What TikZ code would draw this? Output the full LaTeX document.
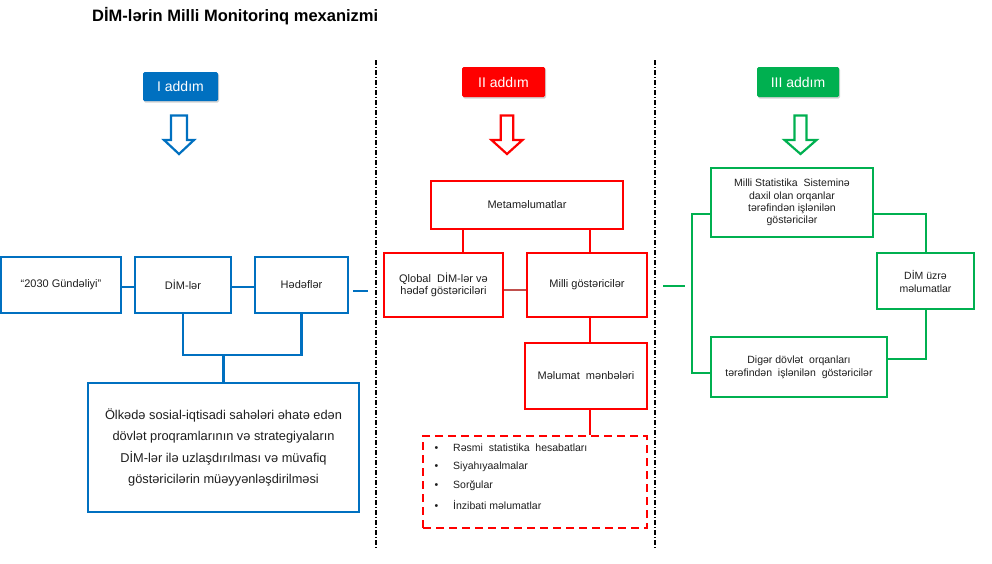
\documentclass[tikz,border=0pt]{standalone}
\usepackage{fontspec}
\setmainfont{Liberation Sans}
\usetikzlibrary{shadows,calc}
\definecolor{cblue}{RGB}{0,112,192}
\definecolor{cred}{RGB}{255,0,0}
\definecolor{cgreen}{RGB}{0,176,80}
\definecolor{cdred}{RGB}{192,80,77}
\definecolor{ctext}{RGB}{30,30,30}
\newcommand\holarrow[5]{%
  \draw[#5, line width=2.2pt, fill=white, line join=miter]
    (#1-#3,#2) -- (#1+#3,#2) -- (#1+#3,#2+24.5) -- (#1+#4,#2+24.5) -- (#1,#2+38.5)
    -- (#1-#4,#2+24.5) -- (#1-#3,#2+24.5) -- cycle;}
\begin{document}
\begin{tikzpicture}[x=1pt,y=-1pt,
  stepbox/.style={rounded corners=1.5pt, minimum height=30, inner sep=0, text=white,
    font=\fontsize{14}{16}\selectfont,
    drop shadow={opacity=0.35,shadow xshift=1pt,shadow yshift=-1.5pt}},
  box/.style={draw, line width=2.5pt, fill=white, inner sep=0, align=center, text=ctext,
    font=\fontsize{11}{13}\selectfont},
  bbox/.style={box, draw=cblue},
  rbox/.style={box, draw=cred},
  gbox/.style={box, draw=cgreen},
  conn/.style={line width=2.5pt},
  sep/.style={line width=1.2pt, black, dash pattern=on 5pt off 2pt on 1pt off 2pt},
  item/.style={anchor=west, inner sep=0, text=ctext, font=\fontsize{10.5}{12}\selectfont}]
\useasboundingbox[fill=white] (0,0) rectangle (992,563);

% title
\node[anchor=base west, inner sep=0, font=\bfseries\fontsize{16.5}{19}\selectfont] (title) at (92,21.5) {DİM-lərin Milli Monitorinq mexanizmi};

% separators
\coordinate (sa) at (376,60); \coordinate (sb) at (376,548);
\coordinate (sc) at (655,60); \coordinate (sd) at (655,548);
\draw[sep] (sa) -- (sb);
\draw[sep] (sc) -- (sd);

% step labels
\node[stepbox, fill=cblue, minimum width=75, minimum height=29] (st1) at (180.5,86.5) {I addım};
\node[stepbox, fill=cred, minimum width=83] (st2) at (503.5,82) {II addım};
\node[stepbox, fill=cgreen, minimum width=82] (st3) at (798,82) {III addım};

\holarrow{179}{115.5}{8}{15}{cblue}
\holarrow{507}{115.5}{6.3}{15.5}{cred}
\holarrow{800.5}{115.5}{6}{16}{cgreen}

% column 1
\node[bbox, minimum width=120, minimum height=56] (g2030) at (61,285) {“2030 Gündəliyi”};
\node[bbox, minimum width=96, minimum height=56] (dim) at (183,285) {DİM-lər};
\node[bbox, minimum width=93, minimum height=56] (hed) at (301.5,285) {Hədəflər};
\node[bbox, minimum width=271, minimum height=129, font=\fontsize{12.8}{21.2}\selectfont] (big) at (223.5,447.5)
  {Ölkədə sosial-iqtisadi sahələri əhatə edən\\dövlət proqramlarının və strategiyaların\\DİM-lər ilə uzlaşdırılması və müvafiq\\göstəricilərin müəyyənləşdirilməsi};
\coordinate (ry) at (0,287);
\draw[conn,cblue] (g2030.east |- ry) -- (dim.west |- ry);
\draw[conn,cblue] (dim.east |- ry) -- (hed.west |- ry);
\coordinate (yb) at (0,355);
\draw[conn,cblue] (dim.south) |- (hed.south |- yb) -- (hed.south);
\draw[conn,cblue] (big.north) -- (big.north |- yb);
\coordinate (s0) at (353,291); \coordinate (s1) at (368,291);
\draw[conn,cblue] (s0) -- (s1);

% column 2
\node[rbox, minimum width=192, minimum height=48] (meta) at (527,205) {Metaməlumatlar};
\node[rbox, minimum width=119, minimum height=64, font=\fontsize{11}{12.5}\selectfont] (qlob) at (443.5,285) {Qlobal \ DİM-lər və\\hədəf göstəriciləri};
\node[rbox, minimum width=120, minimum height=64] (milli) at (587,285) {Milli göstəricilər};
\node[rbox, minimum width=122, minimum height=66] (mel) at (586,376) {Məlumat \ mənbələri};
\node[draw=cred, line width=2.5pt, dash pattern=on 8pt off 5pt, minimum width=224, minimum height=92, inner sep=0] (list) at (535,482) {};
\coordinate (m1) at (463,0); \coordinate (m2) at (590,0); \coordinate (qy) at (0,290);
\draw[conn,cred] (meta.south -| m1) -- (qlob.north -| m1);
\draw[conn,cred] (meta.south -| m2) -- (milli.north -| m2);
\draw[line width=2pt,cdred] (qlob.east |- qy) -- (milli.west |- qy);
\draw[conn,cred] (milli.south -| m2) -- (mel.north -| m2);
\draw[conn,cred] (mel.south -| m2) -- (list.north -| m2);
\node[item] (li1) at (434.5,448) {\makebox[18.5pt][l]{•}Rəsmi \ statistika \ hesabatları};
\node[item] (li2) at (434.5,467) {\makebox[18.5pt][l]{•}Siyahıyaalmalar};
\node[item] (li3) at (434.5,486) {\makebox[18.5pt][l]{•}Sorğular};
\node[item] (li4) at (434.5,504.5) {\makebox[18.5pt][l]{•}İnzibati məlumatlar};

% column 3
\node[gbox, minimum width=162, minimum height=69, font=\fontsize{10.5}{12.2}\selectfont] (ms) at (792,202.5)
  {Milli Statistika \ Sisteminə\\daxil olan orqanlar\\tərəfindən işlənilən\\göstəricilər};
\node[gbox, minimum width=97, minimum height=56, font=\fontsize{10.5}{13}\selectfont] (dimu) at (925.5,281) {DİM üzrə\\məlumatlar};
\node[gbox, minimum width=176, minimum height=60, font=\fontsize{10.5}{13}\selectfont] (dig) at (799,367)
  {Digər dövlət \ orqanları\\tərəfindən \ işlənilən \ göstəricilər};
\coordinate (ly1) at (0,214); \coordinate (lx) at (692,0); \coordinate (ly2) at (0,373);
\coordinate (rx) at (926,0); \coordinate (ly3) at (0,359);
\draw[conn,cgreen] (ms.west |- ly1) -| (lx |- ly2) -- (dig.west |- ly2);
\draw[conn,cgreen] (ms.east |- ly1) -| (dimu.north -| rx);
\draw[line width=1.3pt,cgreen] (dimu.south -| rx) |- (dig.east |- ly3);
\coordinate (g0) at (663,286); \coordinate (g1) at (685,286);
\draw[conn,cgreen] (g0) -- (g1);
\end{tikzpicture}
\end{document}
